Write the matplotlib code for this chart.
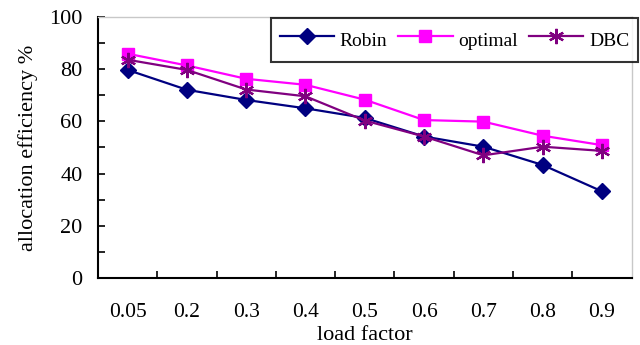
import numpy as np
import matplotlib.pyplot as plt
from matplotlib.ticker import MultipleLocator

# load factor categories
load_factor = ['0.05', '0.2', '0.3', '0.4', '0.5', '0.6', '0.7', '0.8', '0.9']

# allocation efficiency (%)
robin = [79.7, 72.1, 68.2, 65, 61.3, 54.2, 50.3, 43.3, 33.2]
optimal = [85.9, 81.4, 76.3, 74, 68.3, 60.5, 59.9, 54.5, 50.9]
dbc = [83.6, 79.7, 72.2, 69.6, 60.3, 54.2, 47, 50.3, 48.7]

plt.rcParams['font.family'] = ['Liberation Serif', 'DejaVu Serif']

fig = plt.figure(figsize=(6.4, 3.45), dpi=100)
ax = fig.add_axes([0.153, 0.194, 0.834, 0.757])

x = np.arange(len(load_factor))
ax.plot(x, robin, color='#000080', marker='D', markersize=8, lw=1.6, label='Robin')
ax.plot(x, optimal, color='#FF00FF', marker='s', markersize=9, lw=1.6, label='optimal')
ax.plot(x, dbc, color='#800080', marker=(6, 2, 0), markersize=11, mew=1.6, lw=1.6, label='DBC')

ax.set_xlim(-0.5, len(load_factor) - 0.5)
ax.set_ylim(0, 100)
ax.set_xticks(x)
ax.set_xticklabels(load_factor)
ax.set_xticks(x[:-1] + 0.5, minor=True)
ax.tick_params(axis='x', which='major', length=0, labelsize=15.5, pad=18)
ax.tick_params(axis='x', which='minor', direction='in', length=5, width=1.2)
ax.yaxis.set_major_locator(MultipleLocator(20))
ax.yaxis.set_minor_locator(MultipleLocator(10))
ax.tick_params(axis='y', which='both', direction='in', length=5, width=1.2, labelsize=16, pad=11)

for s in ['left', 'bottom']:
    ax.spines[s].set_linewidth(1.5)
for s in ['top', 'right']:
    ax.spines[s].set_color('#c8c8c8')
    ax.spines[s].set_linewidth(1)

ax.set_xlabel('load factor', fontsize=16, labelpad=3)
ax.set_ylabel('allocation efficiency %', fontsize=16, labelpad=8)

leg = ax.legend(loc='upper right', ncol=3, fontsize=14, frameon=True, fancybox=False,
                edgecolor='black', borderpad=0.45, handlelength=2.8, handleheight=1.7,
                columnspacing=0.55, handletextpad=0.3, borderaxespad=0,
                bbox_to_anchor=(638 / 640, 1 - 18 / 345), bbox_transform=fig.transFigure)
leg.get_frame().set_linewidth(1.5)

fig.savefig('out.png', dpi=100)
